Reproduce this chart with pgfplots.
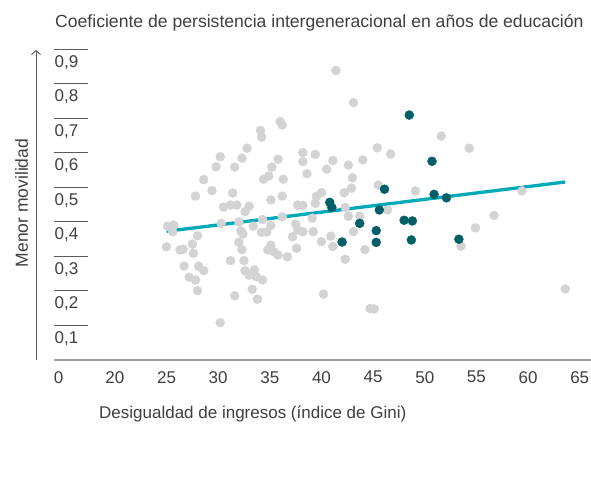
\documentclass[border=0pt]{standalone}
\usepackage{pgfplots}
\pgfplotsset{compat=1.18}
\usepackage{pgfplotstable}
\usepackage{fontspec}
\setmainfont{Liberation Sans}
\usetikzlibrary{arrows.meta}
\definecolor{dotgrey}{HTML}{D3D3D5}
\definecolor{dotteal}{HTML}{005F66}
\definecolor{fitline}{HTML}{00A9B7}
\definecolor{txt}{HTML}{3F3F3F}
\definecolor{tickc}{HTML}{5A5A5A}

\pgfplotstableread{
x y
41.4 0.839
43.1 0.746
36.0 0.691
36.2 0.681
34.1 0.665
34.2 0.646
32.8 0.614
30.2 0.589
32.3 0.585
29.8 0.560
31.6 0.559
35.8 0.582
35.2 0.559
34.9 0.533
34.4 0.524
36.3 0.524
28.6 0.523
29.4 0.491
31.4 0.484
27.8 0.475
36.2 0.475
38.2 0.601
38.2 0.575
39.4 0.596
41.1 0.578
42.6 0.565
40.5 0.553
38.6 0.540
43.0 0.528
44.0 0.580
45.4 0.615
46.7 0.597
51.6 0.649
54.3 0.614
45.5 0.507
49.1 0.490
59.4 0.490
42.9 0.498
42.2 0.485
40.0 0.485
39.5 0.474
35.1 0.464
37.7 0.449
30.5 0.443
31.2 0.449
31.8 0.449
33.0 0.446
32.6 0.430
38.2 0.448
39.4 0.454
42.3 0.442
46.4 0.435
42.6 0.417
43.7 0.417
39.1 0.411
25.1 0.388
25.7 0.391
25.6 0.372
30.3 0.396
32.0 0.400
34.3 0.407
35.1 0.390
36.2 0.415
33.4 0.388
37.5 0.394
37.7 0.377
28.0 0.360
32.2 0.374
32.4 0.365
34.2 0.370
34.7 0.371
38.2 0.372
39.2 0.372
43.1 0.372
40.9 0.359
40.0 0.343
41.1 0.329
25.0 0.328
26.3 0.319
26.6 0.321
27.5 0.336
27.6 0.309
37.2 0.357
32.0 0.341
32.3 0.320
37.6 0.324
35.1 0.333
35.4 0.314
35.8 0.304
36.7 0.299
34.8 0.319
31.2 0.288
32.5 0.288
26.7 0.272
28.1 0.272
28.6 0.259
32.6 0.259
33.0 0.246
33.5 0.261
33.7 0.241
34.3 0.232
27.2 0.240
27.8 0.232
33.3 0.205
28.0 0.201
31.6 0.186
33.8 0.176
30.2 0.108
40.2 0.191
44.2 0.320
42.3 0.292
44.7 0.149
45.1 0.148
54.9 0.383
56.7 0.419
53.5 0.330
63.6 0.206
}\greydata

\pgfplotstableread{
x y
48.5 0.710
50.7 0.576
46.1 0.495
50.9 0.480
52.1 0.470
40.8 0.457
41.0 0.442
45.6 0.435
43.7 0.396
48.0 0.405
48.8 0.403
45.3 0.375
45.3 0.341
48.7 0.348
42.0 0.342
53.3 0.350
}\tealdata

\pgfplotstableread{
x y
25.0 0.373
63.6 0.516
}\fitdata

\begin{document}
\begin{tikzpicture}[x=1pt,y=1pt]
\useasboundingbox (0,0) rectangle (591,486);
\fontsize{17}{20}\selectfont
\begin{axis}[
  at={(54pt,126pt)}, anchor=south west,
  width=537pt, height=345pt, scale only axis,
  xmin=14.11, xmax=66.09, ymin=0, ymax=1,
  clip=false,
  axis x line*=bottom, axis y line*=left,
  x axis line style={draw=gray!75, line width=1.2pt},
  y axis line style={draw=none},
  xtick={14.55,20,25,30,35,40,45,50,55,60,65},
  xticklabels={0,20,25,30,35,40,45,50,55,60,65},
  xtick style={draw=none},
  ytick={0.1,0.2,0.3,0.4,0.5,0.6,0.7,0.8,0.9},
  yticklabels={{0,1},{0,2},{0,3},{0,4},{0,5},{0,6},{0,7},{0,8},{0,9}},
  tick align=inside,
  major tick length=34pt,
  ytick style={draw=tickc, line width=1pt},
  ticklabel style={font=\fontsize{17}{20}\selectfont, text=txt},
  xticklabel style={anchor=north, inner sep=0pt, yshift=-11pt},
  yticklabel style={anchor=north west, inner sep=0pt, xshift=0.5pt, yshift=-5.5pt},
]
\addplot[dotgrey, only marks, mark=*, mark size=4.5pt, mark options={draw=dotgrey, fill=dotgrey}] table[x=x,y=y] {\greydata};
\addplot[fitline, line width=3.3pt] table[x=x,y=y] {\fitdata};
\addplot[dotteal, only marks, mark=*, mark size=4.5pt, mark options={draw=dotteal, fill=dotteal}] table[x=x,y=y] {\tealdata};
\end{axis}
\draw[tickc, line width=0.9pt, -{Straight Barb[length=4pt,width=9pt]}] (36,126) -- (36,436);
\node[anchor=base west, inner sep=0pt, text=txt, font=\fontsize{17.6}{20}\selectfont] at (55,458) {Coeficiente de persistencia intergeneracional en años de educación};
\node[anchor=base west, inner sep=0pt, text=txt] at (99,67.5) {Desigualdad de ingresos (índice de Gini)};
\node[rotate=90, anchor=base, inner sep=0pt, text=txt, font=\fontsize{17.5}{20}\selectfont] at (28,283) {Menor movilidad};
\end{tikzpicture}
\end{document}
